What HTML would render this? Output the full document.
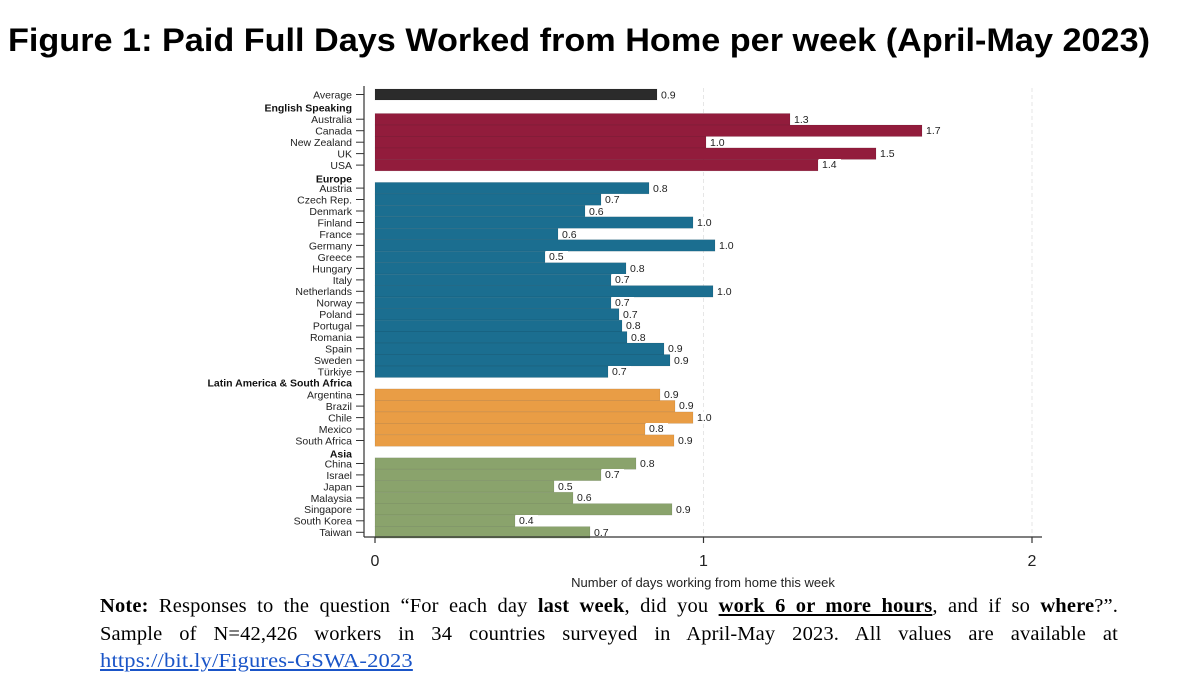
<!DOCTYPE html>
<html><head><meta charset="utf-8"><style>
html,body{margin:0;padding:0;background:#fff;width:1177px;height:694px;overflow:hidden}
svg{display:block}
.l{font-family:"Liberation Sans",sans-serif;font-size:10.5px;fill:#222;text-anchor:end}
.h{font-family:"Liberation Sans",sans-serif;font-size:10.5px;font-weight:bold;fill:#111;text-anchor:end}
.v{font-family:"Liberation Sans",sans-serif;font-size:10.5px;fill:#222}
.note{position:absolute;left:100px;width:1018px;font-family:"Liberation Serif",serif;font-size:20.5px;letter-spacing:0.15px;color:#000;line-height:27.5px;top:593px}
.note div{text-align:justify;text-align-last:justify;white-space:nowrap}
.note div.last{text-align-last:left}
</style></head><body>
<svg width="1177" height="694" viewBox="0 0 1177 694">
<text x="8" y="51" font-family="Liberation Sans,sans-serif" font-weight="bold" font-size="32" textLength="1142" lengthAdjust="spacingAndGlyphs">Figure 1: Paid Full Days Worked from Home per week (April-May 2023)</text>
<g stroke="#e6e6e6" stroke-dasharray="4,3"><line x1="703.5" y1="88" x2="703.5" y2="537"/><line x1="1032" y1="88" x2="1032" y2="537"/></g>
<g id="bars" stroke="rgba(0,0,0,0.12)" stroke-width="0.6">
<rect x="375" y="89" width="282" height="11" fill="#2b2b2b"/>
<rect x="375" y="113.5" width="415" height="11.48" fill="#921c3c"/>
<rect x="375" y="125" width="547" height="11.48" fill="#921c3c"/>
<rect x="375" y="136.5" width="331" height="11.48" fill="#921c3c"/>
<rect x="375" y="147.9" width="501" height="11.48" fill="#921c3c"/>
<rect x="375" y="159.4" width="443" height="11.48" fill="#921c3c"/>
<rect x="375" y="182.4" width="274" height="11.48" fill="#1b6e90"/>
<rect x="375" y="193.8" width="226" height="11.48" fill="#1b6e90"/>
<rect x="375" y="205.3" width="210" height="11.48" fill="#1b6e90"/>
<rect x="375" y="216.8" width="318" height="11.48" fill="#1b6e90"/>
<rect x="375" y="228.3" width="183" height="11.48" fill="#1b6e90"/>
<rect x="375" y="239.7" width="340" height="11.48" fill="#1b6e90"/>
<rect x="375" y="251.2" width="170" height="11.48" fill="#1b6e90"/>
<rect x="375" y="262.7" width="251" height="11.48" fill="#1b6e90"/>
<rect x="375" y="274.2" width="236" height="11.48" fill="#1b6e90"/>
<rect x="375" y="285.6" width="338" height="11.48" fill="#1b6e90"/>
<rect x="375" y="297.1" width="236" height="11.48" fill="#1b6e90"/>
<rect x="375" y="308.6" width="244" height="11.48" fill="#1b6e90"/>
<rect x="375" y="320.1" width="247" height="11.48" fill="#1b6e90"/>
<rect x="375" y="331.5" width="252" height="11.48" fill="#1b6e90"/>
<rect x="375" y="343" width="289" height="11.48" fill="#1b6e90"/>
<rect x="375" y="354.5" width="295" height="11.48" fill="#1b6e90"/>
<rect x="375" y="366" width="233" height="11.48" fill="#1b6e90"/>
<rect x="375" y="388.9" width="285" height="11.48" fill="#e99d45"/>
<rect x="375" y="400.4" width="300" height="11.48" fill="#e99d45"/>
<rect x="375" y="411.9" width="318" height="11.48" fill="#e99d45"/>
<rect x="375" y="423.3" width="270" height="11.48" fill="#e99d45"/>
<rect x="375" y="434.8" width="299" height="11.48" fill="#e99d45"/>
<rect x="375" y="457.8" width="261" height="11.48" fill="#8aa36c"/>
<rect x="375" y="469.2" width="226" height="11.48" fill="#8aa36c"/>
<rect x="375" y="480.7" width="179" height="11.48" fill="#8aa36c"/>
<rect x="375" y="492.2" width="198" height="11.48" fill="#8aa36c"/>
<rect x="375" y="503.6" width="297" height="11.48" fill="#8aa36c"/>
<rect x="375" y="515.1" width="140" height="11.48" fill="#8aa36c"/>
<rect x="375" y="526.6" width="215" height="11.48" fill="#8aa36c"/>
</g>
<g class="v">
<g fill="#fff">
<rect x="658" y="89" width="22" height="11"/><rect x="791" y="114" width="22" height="10"/><rect x="923" y="125" width="22" height="10"/><rect x="707" y="137" width="22" height="10"/><rect x="877" y="148" width="22" height="10"/><rect x="819" y="159" width="22" height="10"/>
<rect x="650" y="183" width="22" height="10"/><rect x="602" y="194" width="22" height="10"/><rect x="586" y="206" width="22" height="10"/><rect x="694" y="217" width="22" height="10"/><rect x="559" y="229" width="22" height="10"/><rect x="716" y="240" width="22" height="10"/><rect x="546" y="251" width="22" height="10"/><rect x="627" y="263" width="22" height="10"/><rect x="612" y="274" width="22" height="10"/><rect x="714" y="286" width="22" height="10"/><rect x="612" y="297" width="22" height="10"/><rect x="620" y="309" width="22" height="10"/><rect x="623" y="320" width="22" height="10"/><rect x="628" y="332" width="22" height="10"/><rect x="665" y="343" width="22" height="10"/><rect x="671" y="355" width="22" height="10"/><rect x="609" y="366" width="22" height="10"/>
<rect x="661" y="389" width="22" height="10"/><rect x="676" y="400" width="22" height="10"/><rect x="694" y="412" width="22" height="10"/><rect x="646" y="423" width="22" height="10"/><rect x="675" y="435" width="22" height="10"/>
<rect x="637" y="458" width="22" height="10"/><rect x="602" y="469" width="22" height="10"/><rect x="555" y="481" width="22" height="10"/><rect x="574" y="492" width="22" height="10"/><rect x="673" y="504" width="22" height="10"/><rect x="516" y="515" width="22" height="10"/><rect x="591" y="527" width="22" height="10"/>
</g>
<text x="661" y="98.5">0.9</text><text x="794" y="123">1.3</text><text x="926" y="134">1.7</text><text x="710" y="146">1.0</text><text x="880" y="157">1.5</text><text x="822" y="168">1.4</text>
<text x="653" y="192">0.8</text><text x="605" y="203">0.7</text><text x="589" y="215">0.6</text><text x="697" y="226">1.0</text><text x="562" y="238">0.6</text><text x="719" y="249">1.0</text><text x="549" y="260">0.5</text><text x="630" y="272">0.8</text><text x="615" y="283">0.7</text><text x="717" y="295">1.0</text><text x="615" y="306">0.7</text><text x="623" y="318">0.7</text><text x="626" y="329">0.8</text><text x="631" y="341">0.8</text><text x="668" y="352">0.9</text><text x="674" y="364">0.9</text><text x="612" y="375">0.7</text>
<text x="664" y="398">0.9</text><text x="679" y="409">0.9</text><text x="697" y="421">1.0</text><text x="649" y="432">0.8</text><text x="678" y="444">0.9</text>
<text x="640" y="467">0.8</text><text x="605" y="478">0.7</text><text x="558" y="490">0.5</text><text x="577" y="501">0.6</text><text x="676" y="513">0.9</text><text x="519" y="524">0.4</text><text x="594" y="536">0.7</text>
</g>
<g stroke="#333" stroke-width="1.2">
<line x1="364" y1="86" x2="364" y2="537"/><line x1="364" y1="537" x2="1042" y2="537"/>
<line x1="375" y1="537" x2="375" y2="543"/><line x1="703.5" y1="537" x2="703.5" y2="543"/><line x1="1032" y1="537" x2="1032" y2="543"/>
</g>
<g stroke="#333" stroke-width="1">
<line x1="356" y1="94.5" x2="364" y2="94.5"/>
<line x1="356" y1="119.2" x2="364" y2="119.2"/><line x1="356" y1="130.7" x2="364" y2="130.7"/><line x1="356" y1="142.2" x2="364" y2="142.2"/><line x1="356" y1="153.6" x2="364" y2="153.6"/><line x1="356" y1="165.1" x2="364" y2="165.1"/>
<line x1="356" y1="188.1" x2="364" y2="188.1"/><line x1="356" y1="199.5" x2="364" y2="199.5"/><line x1="356" y1="211" x2="364" y2="211"/><line x1="356" y1="222.5" x2="364" y2="222.5"/><line x1="356" y1="234" x2="364" y2="234"/><line x1="356" y1="245.4" x2="364" y2="245.4"/><line x1="356" y1="256.9" x2="364" y2="256.9"/><line x1="356" y1="268.4" x2="364" y2="268.4"/><line x1="356" y1="279.9" x2="364" y2="279.9"/><line x1="356" y1="291.3" x2="364" y2="291.3"/><line x1="356" y1="302.8" x2="364" y2="302.8"/><line x1="356" y1="314.3" x2="364" y2="314.3"/><line x1="356" y1="325.8" x2="364" y2="325.8"/><line x1="356" y1="337.2" x2="364" y2="337.2"/><line x1="356" y1="348.7" x2="364" y2="348.7"/><line x1="356" y1="360.2" x2="364" y2="360.2"/><line x1="356" y1="371.7" x2="364" y2="371.7"/>
<line x1="356" y1="394.6" x2="364" y2="394.6"/><line x1="356" y1="406.1" x2="364" y2="406.1"/><line x1="356" y1="417.6" x2="364" y2="417.6"/><line x1="356" y1="429" x2="364" y2="429"/><line x1="356" y1="440.5" x2="364" y2="440.5"/>
<line x1="356" y1="463.5" x2="364" y2="463.5"/><line x1="356" y1="474.9" x2="364" y2="474.9"/><line x1="356" y1="486.4" x2="364" y2="486.4"/><line x1="356" y1="497.9" x2="364" y2="497.9"/><line x1="356" y1="509.3" x2="364" y2="509.3"/><line x1="356" y1="520.8" x2="364" y2="520.8"/><line x1="356" y1="532.3" x2="364" y2="532.3"/>
</g>
<g class="l">
<text x="352" y="98.5">Average</text>
<text x="352" y="123">Australia</text><text x="352" y="134.5">Canada</text><text x="352" y="146">New Zealand</text><text x="352" y="157.5">UK</text><text x="352" y="169">USA</text>
<text x="352" y="192">Austria</text><text x="352" y="203.5">Czech Rep.</text><text x="352" y="215">Denmark</text><text x="352" y="226.5">Finland</text><text x="352" y="238">France</text><text x="352" y="249.5">Germany</text><text x="352" y="261">Greece</text><text x="352" y="272.5">Hungary</text><text x="352" y="284">Italy</text><text x="352" y="295">Netherlands</text><text x="352" y="306.5">Norway</text><text x="352" y="318">Poland</text><text x="352" y="329.5">Portugal</text><text x="352" y="341">Romania</text><text x="352" y="352.5">Spain</text><text x="352" y="364">Sweden</text><text x="352" y="375.5">Türkiye</text>
<text x="352" y="398.5">Argentina</text><text x="352" y="410">Brazil</text><text x="352" y="421.5">Chile</text><text x="352" y="433">Mexico</text><text x="352" y="444.5">South Africa</text>
<text x="352" y="467.5">China</text><text x="352" y="479">Israel</text><text x="352" y="490.5">Japan</text><text x="352" y="502">Malaysia</text><text x="352" y="513">Singapore</text><text x="352" y="524.5">South Korea</text><text x="352" y="536">Taiwan</text>
</g>
<g class="h">
<text x="352" y="111.5">English Speaking</text><text x="352" y="182.5">Europe</text><text x="352" y="386.5">Latin America &amp; South Africa</text><text x="352" y="457.5">Asia</text>
</g>
<g font-family="Liberation Sans,sans-serif" font-size="16" fill="#222" text-anchor="middle">
<text x="375" y="566">0</text><text x="703.5" y="566">1</text><text x="1032" y="566">2</text>
</g>
<text x="703" y="587" font-family="Liberation Sans,sans-serif" font-size="13" fill="#222" text-anchor="middle">Number of days working from home this week</text>
</svg>
<div class="note">
<div><b>Note:</b> Responses to the question “For each day <b>last week</b>, did you <b><u>work 6 or more hours</u></b>, and if so <b>where</b>?”.</div>
<div>Sample of N=42,426 workers in 34 countries surveyed in April-May 2023. All values are available at</div>
<div class="last"><span style="display:inline-block;transform:scaleX(1.1);transform-origin:left;color:#1a55c8;text-decoration:underline">https://bit.ly/Figures-GSWA-2023</span></div>
</div>
</body></html>
